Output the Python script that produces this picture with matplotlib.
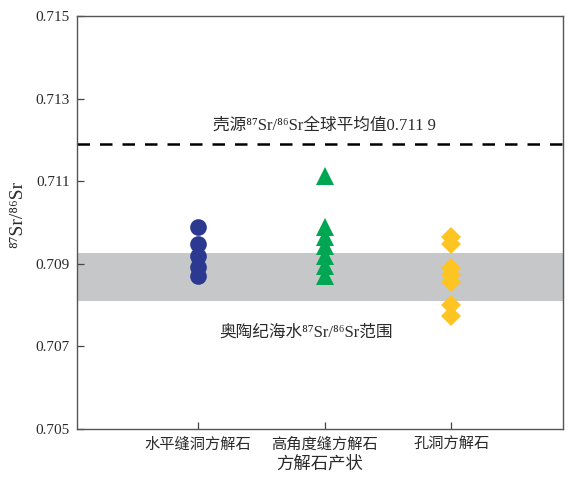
import matplotlib
matplotlib.use("Agg")
import matplotlib.pyplot as plt

# calcite types and their 87Sr/86Sr values
categories = ["水平缝洞方解石", "高角度缝方解石", "孔洞方解石"]
horiz_vug = [0.70990, 0.70949, 0.70918, 0.70893, 0.70870]
high_angle = [0.71113, 0.70990, 0.70966, 0.70942, 0.70918, 0.70894, 0.70870]
vug = [0.70966, 0.70947, 0.70891, 0.70874, 0.70855, 0.70800, 0.70773]

crust_avg = 0.7119
ordovician_band = (0.7081, 0.70925)
yticks = [0.705, 0.707, 0.709, 0.711, 0.713, 0.715]

TXT = "#2a2a2a"
LATIN = ["Liberation Serif", "DejaVu Serif", "Noto Sans CJK SC"]
CJK = ["Noto Sans CJK SC", "DejaVu Sans"]

fig = plt.figure(figsize=(5.72, 4.8), dpi=100)
ax = fig.add_axes([0.1346, 0.10625, 0.849, 0.8604])

ax.axhspan(*ordovician_band, color="#c6c7c9", lw=0, zorder=1)
ax.axhline(crust_avg, color="black", lw=1.8, dashes=(5, 4), zorder=2)

series = [
    (horiz_vug, "o", "#2b3990", 12),
    (high_angle, "^", "#00a651", 13),
    (vug, "D", "#fdc422", 10.5),
]
for i, (vals, mk, col, ms) in enumerate(series):
    ax.plot([i + 1] * len(vals), vals, ls="none", marker=mk, color=col,
            markersize=ms, markeredgewidth=0, zorder=3)

ax.set_xlim(0.043, 3.88)
ax.set_ylim(0.705, 0.715)
ax.set_yticks(yticks)
ax.set_yticklabels([f"{v:.3f}" for v in yticks], family=LATIN, fontsize=11,
                   color=TXT)
ax.set_xticks([1, 2, 3])
ax.set_xticklabels(categories, family=CJK, fontsize=11, color=TXT)
ax.tick_params(direction="in", length=5, width=0.9, color="#444444", pad=5)
for s in ax.spines.values():
    s.set_color("#555555")
    s.set_linewidth(1.0)

ax.set_xlabel("方解石产状", family=CJK, fontsize=12.5, color=TXT, labelpad=1)
ax.set_ylabel("⁸⁷Sr/⁸⁶Sr", family=LATIN, fontsize=14, color=TXT, labelpad=4)
ax.yaxis.set_label_coords(-0.105, 0.52)

ax.text(2.0, 0.71234, "壳源⁸⁷Sr/⁸⁶Sr全球平均值0.711 9", family=LATIN,
        fontsize=12, color=TXT, ha="center", va="center")
ax.text(1.85, 0.70734, "奥陶纪海水⁸⁷Sr/⁸⁶Sr范围", family=LATIN,
        fontsize=12, color=TXT, ha="center", va="center")

fig.savefig("out.png", dpi=100)
